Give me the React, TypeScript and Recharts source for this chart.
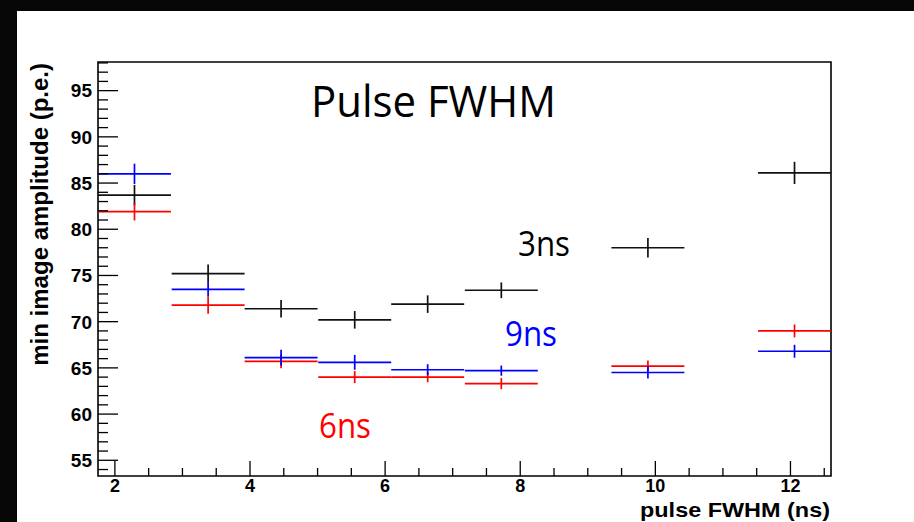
import { ScatterChart, Scatter, XAxis, YAxis, ErrorBar, ReferenceArea } from 'recharts';

// bins of pulse FWHM (ns)
const binCenters = [2.29, 3.38, 4.46, 5.55, 6.63, 7.72, 9.89, 12.06];
const binHalfWidths = [0.54, 0.54, 0.54, 0.54, 0.54, 0.54, 0.54, 0.54];

const amp3ns = [83.7, 75.2, 71.4, 70.2, 71.9, 73.4, 78.0, 86.1];
const err3ns = [1.1, 1.0, 0.95, 0.95, 0.95, 0.85, 1.05, 1.2];
const amp9ns = [86.0, 73.5, 66.1, 65.6, 64.8, 64.7, 64.5, 66.8];
const err9ns = [1.1, 0.75, 0.85, 0.8, 0.6, 0.55, 0.65, 0.7];
const amp6ns = [81.9, 71.8, 65.7, 64.0, 64.0, 63.3, 65.2, 69.0];
const err6ns = [0.95, 0.95, 0.75, 0.65, 0.55, 0.6, 0.6, 0.7];

const xTicks = [2, 2.5, 3, 3.5, 4, 4.5, 5, 5.5, 6, 6.5, 7, 7.5, 8, 8.5, 9, 9.5, 10, 10.5, 11, 11.5, 12, 12.5];
const xLabels = [2, 4, 6, 8, 10, 12];
const yTicks = [54, 55, 56, 57, 58, 59, 60, 61, 62, 63, 64, 65, 66, 67, 68, 69, 70, 71, 72, 73, 74, 75, 76,
  77, 78, 79, 80, 81, 82, 83, 84, 85, 86, 87, 88, 89, 90, 91, 92, 93, 94, 95, 96, 97, 98];
const yLabels = [55, 60, 65, 70, 75, 80, 85, 90, 95];

const X_MIN = 1.75, X_MAX = 12.6;
const Y_MIN = 53.3, Y_MAX = 98.1;
const Y_GAP = 6;
const X_GAP = 3;
const AXIS_FONT = '"Liberation Sans", Arial, sans-serif';
const NOTE_FONT = '"Open Sans", "Noto Sans", sans-serif';

function rows(vals: number[], errs: number[]) {
  return binCenters.map((x, i) => ({ x, y: vals[i], ex: binHalfWidths[i], ey: errs[i] }));
}

function YTick({ x, y, payload }: any) {
  const v = payload.value;
  const major = yLabels.includes(v);
  const ax = x + Y_GAP;
  return (
    <g>
      <line x1={ax} x2={ax + (major ? 20 : 10)} y1={y} y2={y} stroke="#000" strokeWidth={1.3} />
      {major && (
        <text x={x} y={y} dy="0.36em" textAnchor="end" fontFamily={AXIS_FONT} fontWeight="bold" fontSize={19} fill="#000">
          {v}
        </text>
      )}
    </g>
  );
}

function XTick({ x, y, payload }: any) {
  const v = payload.value;
  const major = xLabels.includes(v);
  const ay = y - X_GAP;
  return (
    <g>
      <line x1={x} x2={x} y1={ay} y2={ay - (major ? 15 : 8)} stroke="#000" strokeWidth={1.3} />
      {major && (
        <text x={x} y={y} dy="0.71em" textAnchor="middle" fontFamily={AXIS_FONT} fontWeight="bold" fontSize={18} fill="#000">
          {v}
        </text>
      )}
    </g>
  );
}

const noShape = () => <g />;

function Series({ data, color }: { data: any[]; color: string }) {
  return (
    <Scatter data={data} shape={noShape} isAnimationActive={false}>
      <ErrorBar dataKey="ex" direction="x" width={0} stroke={color} strokeWidth={1.7} />
      <ErrorBar dataKey="ey" direction="y" width={0} stroke={color} strokeWidth={1.7} />
    </Scatter>
  );
}

export default function App() {
  return (
    <div style={{ position: 'absolute', left: 0, top: 0, width: 914, height: 522, background: '#060606' }}>
      <div style={{ position: 'absolute', left: 17, top: 11, width: 897, height: 511, background: '#fff' }} />
      <div style={{ position: 'absolute', left: 0, top: 0 }}>
        <ScatterChart width={914} height={522} margin={{ top: 62, right: 83, bottom: 0, left: 0 }}>
          <XAxis type="number" dataKey="x" domain={[X_MIN, X_MAX]} allowDataOverflow ticks={xTicks}
            interval={0} tickSize={0} tickMargin={X_GAP} axisLine={false} tickLine={false}
            height={46} tick={<XTick />} />
          <YAxis type="number" dataKey="y" domain={[Y_MIN, Y_MAX]} allowDataOverflow ticks={yTicks}
            interval={0} tickSize={0} tickMargin={Y_GAP} axisLine={false} tickLine={false}
            width={98} tick={<YTick />} />
          <ReferenceArea x1={X_MIN} x2={X_MAX} y1={Y_MIN} y2={Y_MAX} fill="none" stroke="#000" strokeWidth={1.6} fillOpacity={0} />
          <Series data={rows(amp3ns, err3ns)} color="#111" />
          <Series data={rows(amp6ns, err6ns)} color="#ff0000" />
          <Series data={rows(amp9ns, err9ns)} color="#0000ff" />
        </ScatterChart>
      </div>
      <svg width={914} height={522} style={{ position: 'absolute', left: 0, top: 0, pointerEvents: 'none' }}>
        <text x={311} y={117} fontFamily={NOTE_FONT} fontSize={44} textLength={245} lengthAdjust="spacingAndGlyphs" fill="#000">Pulse FWHM</text>
        <text x={518} y={256} fontFamily={NOTE_FONT} fontSize={34} textLength={52} lengthAdjust="spacingAndGlyphs" fill="#000">3ns</text>
        <text x={505} y={346} fontFamily={NOTE_FONT} fontSize={34} textLength={52} lengthAdjust="spacingAndGlyphs" fill="#0000ff">9ns</text>
        <text x={319} y={438} fontFamily={NOTE_FONT} fontSize={34} textLength={52} lengthAdjust="spacingAndGlyphs" fill="#ff0000">6ns</text>
        <text transform="translate(48,63) rotate(-90)" textAnchor="end" fontFamily={AXIS_FONT} fontWeight="bold" fontSize={24} fill="#000">
          min image amplitude (p.e.)
        </text>
        <text x={830} y={517} textAnchor="end" fontFamily={AXIS_FONT} fontWeight="bold" fontSize={21} textLength={190} lengthAdjust="spacingAndGlyphs" fill="#000">
          pulse FWHM (ns)
        </text>
      </svg>
    </div>
  );
}
